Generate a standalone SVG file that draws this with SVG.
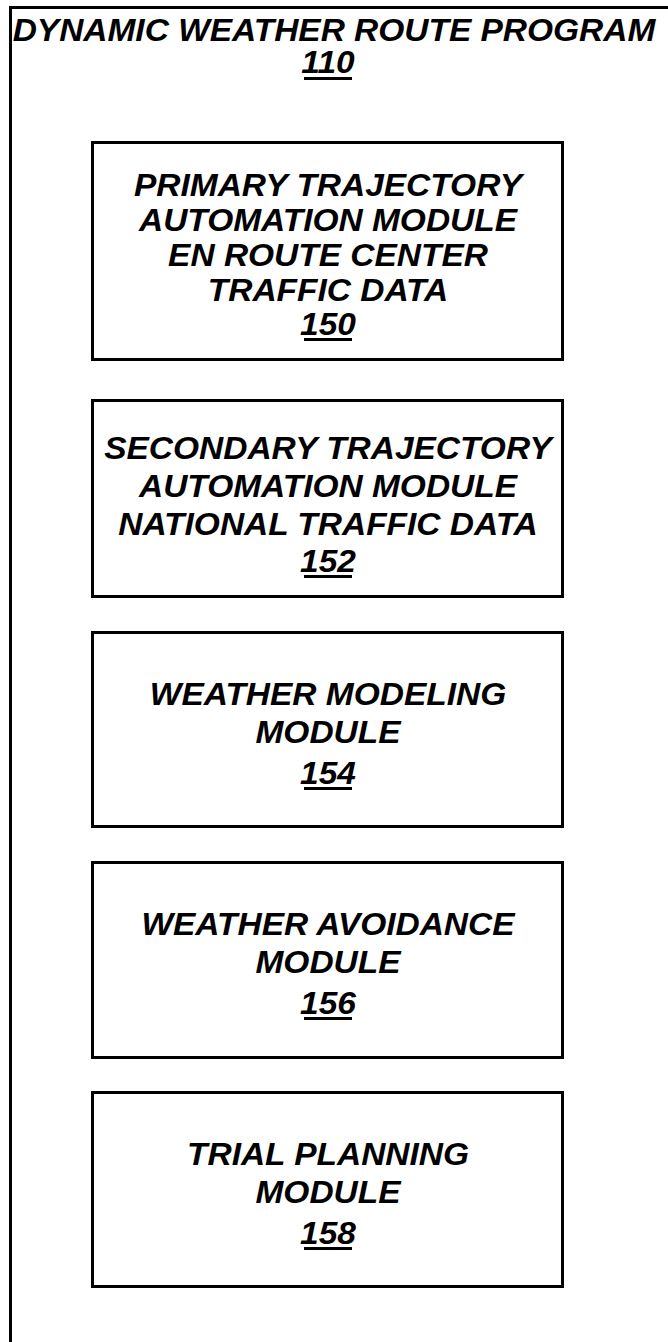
<svg xmlns="http://www.w3.org/2000/svg" width="668" height="1342" viewBox="0 0 668 1342">
<style>
.t{font-family:"Liberation Sans",Arial,sans-serif;font-weight:bold;font-style:italic;font-size:31px;fill:#000;text-anchor:middle}
.b{fill:#fff;stroke:#000;stroke-width:3}
.u{stroke:#000;stroke-width:3}
</style>
<rect width="668" height="1342" fill="#fff"/>
<g id="program110">
<path d="M10.5 1342 V7.5 H668" fill="none" stroke="#000" stroke-width="3"/>
<g transform="matrix(1.08 0 0 1 334 0)"><text class="t" x="0" y="41">DYNAMIC WEATHER ROUTE PROGRAM</text></g>
<g transform="matrix(1.08 0 0 1 328 0)"><text class="t" x="0" y="73">110</text></g>
<line class="u" x1="304" y1="78.5" x2="352" y2="78.5"/>
</g>
<g id="node150">
<rect class="b" x="92.5" y="142.5" width="470" height="217"/>
<g transform="matrix(1.08 0 0 1 328 0)">
<text class="t" x="0" y="196">PRIMARY TRAJECTORY</text>
<text class="t" x="0" y="231">AUTOMATION MODULE</text>
<text class="t" x="0" y="266">EN ROUTE CENTER</text>
<text class="t" x="0" y="301">TRAFFIC DATA</text>
<text class="t" x="0" y="335">150</text>
</g>
<line class="u" x1="304" y1="339.5" x2="352" y2="339.5"/>
</g>
<g id="node152">
<rect class="b" x="92.5" y="400.5" width="470" height="196"/>
<g transform="matrix(1.08 0 0 1 328 0)">
<text class="t" x="0" y="459">SECONDARY TRAJECTORY</text>
<text class="t" x="0" y="497">AUTOMATION MODULE</text>
<text class="t" x="0" y="535">NATIONAL TRAFFIC DATA</text>
<text class="t" x="0" y="572">152</text>
</g>
<line class="u" x1="304" y1="576.5" x2="352" y2="576.5"/>
</g>
<g id="node154">
<rect class="b" x="92.5" y="632.5" width="470" height="194"/>
<g transform="matrix(1.08 0 0 1 328 0)">
<text class="t" x="0" y="705">WEATHER MODELING</text>
<text class="t" x="0" y="743">MODULE</text>
<text class="t" x="0" y="784">154</text>
</g>
<line class="u" x1="304" y1="788.5" x2="352" y2="788.5"/>
</g>
<g id="node156">
<rect class="b" x="92.5" y="862.5" width="470" height="195"/>
<g transform="matrix(1.08 0 0 1 328 0)">
<text class="t" x="0" y="935">WEATHER AVOIDANCE</text>
<text class="t" x="0" y="973">MODULE</text>
<text class="t" x="0" y="1014">156</text>
</g>
<line class="u" x1="304" y1="1018.5" x2="352" y2="1018.5"/>
</g>
<g id="node158">
<rect class="b" x="92.5" y="1092.5" width="470" height="194"/>
<g transform="matrix(1.08 0 0 1 328 0)">
<text class="t" x="0" y="1165">TRIAL PLANNING</text>
<text class="t" x="0" y="1203">MODULE</text>
<text class="t" x="0" y="1244">158</text>
</g>
<line class="u" x1="304" y1="1248.5" x2="352" y2="1248.5"/>
</g>
<g id="connectors"></g>
</svg>
